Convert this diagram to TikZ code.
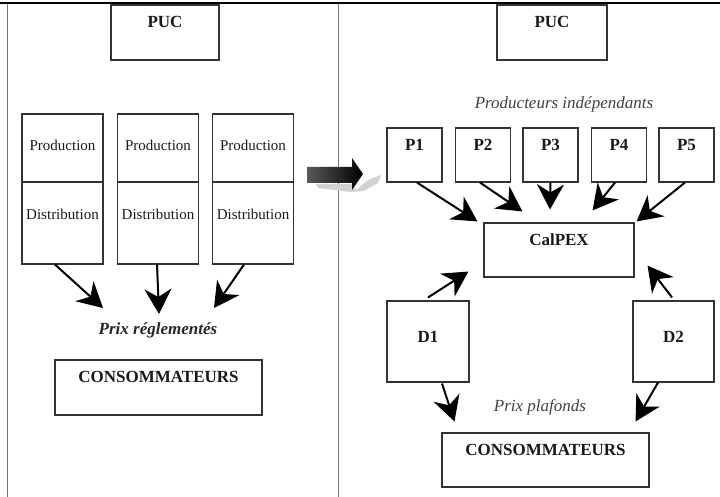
\documentclass[tikz,border=0pt]{standalone}
\usepackage{fontspec}
\setmainfont{Liberation Serif}
\usetikzlibrary{arrows.meta}
\begin{document}
\begin{tikzpicture}[x=1pt,y=-1pt,
  box/.style={draw=black!80, line width=1.1pt, rectangle, inner sep=0pt},
  btxt/.style={font=\fontsize{17}{20}\selectfont\bfseries, text=black!90, inner sep=0pt},
  ntxt/.style={font=\fontsize{15}{18}\selectfont, text=black!90, inner sep=0pt},
  itxt/.style={font=\fontsize{17}{20}\selectfont\itshape, text=black!75, inner sep=0pt},
  conn/.style={line width=2pt, -{Stealth[length=25pt,width=27pt,inset=8pt]}},
  frame/.style={draw=black!55, line width=1pt}]
\useasboundingbox (0,0) rectangle (720,497);
% frame
\draw[frame] (7,3) -- (7,497);
\draw[frame] (338,3) -- (338,497);
\draw[black, line width=1.2pt] (0,3) -- (720,3);
\draw[black, line width=3.5pt] (111,4) -- (219,4);
\draw[black, line width=3.5pt] (497,4) -- (607,4);
% ---------- left side ----------
\node[box, minimum width=108pt, minimum height=55pt] (pucL) at (165,32.5) {};
\node[btxt] (pucLt) at (165,22) {PUC};
\foreach \i/\cx in {1/62.5,2/158,3/253}{
  \node[box, minimum width=81pt, minimum height=68pt] (prod\i) at (\cx,148) {};
  \node[box, minimum width=81pt, minimum height=82pt] (dist\i) at (\cx,223) {};
  \node[ntxt] (prodt\i) at (\cx,145) {Production};
  \node[ntxt] (distt\i) at (\cx,214) {Distribution};
}
\node[itxt, font=\fontsize{17}{20}\selectfont\bfseries\itshape, text=black!85] (prixr) at (158,330) {Prix réglementés};
\node[box, minimum width=207pt, minimum height=55pt] (consL) at (158.5,387.5) {};
\node[btxt] (consLt) at (158.5,377) {CONSOMMATEURS};
\draw[conn] ([xshift=-7.5pt]dist1.south) -- ([xshift=-55pt,yshift=22pt]prixr.center);
\draw[conn] ([xshift=-1pt]dist2.south) -- ([xshift=1pt,yshift=16pt]prixr.center);
\draw[conn] ([xshift=-9pt]dist3.south) -- ([xshift=56pt,yshift=22pt]prixr.center);
% ---------- big arrow ----------
\fill[gray!35] (316,184) -- (352,184) -- (356,190) -- (368,180) -- (381,175) -- (378,183) -- (364,191) -- (350,192) -- (318,188) -- cycle;
\shade[left color=black!65, right color=black] (307,167) -- (352,167) -- (352,158) -- (363,174) -- (352,190) -- (352,183) -- (307,183) -- cycle;
% ---------- right side ----------
\node[box, minimum width=110pt, minimum height=55pt] (pucR) at (552,32.5) {};
\node[btxt] (pucRt) at (552,22) {PUC};
\node[itxt] (indep) at (564,104) {Producteurs indépendants};
\foreach \i/\cx in {1/414.5,2/483,3/550.5,4/619,5/686.5}{
  \node[box, minimum width=55pt, minimum height=54pt] (p\i) at (\cx,155) {};
  \node[btxt] (pt\i) at (\cx,145) {P\i};
}
\node[box, minimum width=150pt, minimum height=54pt] (cal) at (559,250) {};
\node[btxt] (calt) at (559,240) {CalPEX};
\node[box, minimum width=82pt, minimum height=81pt] (d1) at (428,341.5) {};
\node[btxt] (d1t) at (428,337) {D1};
\node[box, minimum width=81pt, minimum height=81pt] (d2) at (673.5,341.5) {};
\node[btxt] (d2t) at (673.5,337) {D2};
\node[itxt] (prixp) at (540,407) {Prix plafonds};
\node[box, minimum width=207pt, minimum height=54pt] (consR) at (545.5,460) {};
\node[btxt] (consRt) at (545.5,450) {CONSOMMATEURS};
\draw[conn] ([xshift=2.5pt]p1.south) -- ([xshift=-6pt,yshift=1pt]cal.north west);
\draw[conn] ([xshift=-3pt]p2.south) -- ([xshift=39pt,yshift=11pt]cal.north west);
\draw[conn] (p3.south) -- ([xshift=-9pt,yshift=13pt]cal.north);
\draw[conn] ([xshift=-4pt]p4.south) -- ([xshift=-42pt,yshift=12pt]cal.north east);
\draw[conn] ([xshift=-1.5pt]p5.south) -- ([xshift=2pt,yshift=1pt]cal.north east);
\draw[conn] ([yshift=3pt]d1.north) -- ([xshift=-15pt,yshift=6pt]cal.south west);
\draw[conn] ([xshift=-1.5pt,yshift=3pt]d2.north) -- ([xshift=13pt,yshift=12pt]cal.south east);
\draw[conn] ([xshift=14pt,yshift=-1pt]d1.south) -- ([xshift=13pt,yshift=11pt]consR.north west);
\draw[conn] ([xshift=-15.5pt]d2.south) -- ([xshift=-14pt,yshift=11pt]consR.north east);
\end{tikzpicture}
\end{document}
